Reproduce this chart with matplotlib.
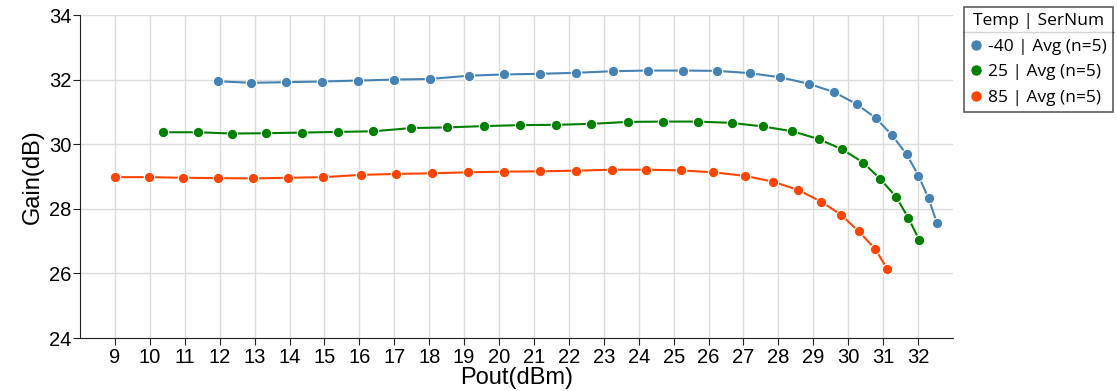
import matplotlib
matplotlib.use("Agg")
import matplotlib.pyplot as plt
from matplotlib.lines import Line2D

# Pout (dBm) / Gain (dB) per temperature, averaged over 5 serial numbers
pout_m40 = [11.95, 12.90, 13.91, 14.93, 15.96, 16.99, 18.01, 19.13, 20.14, 21.17, 22.20, 23.25, 24.27,
            25.27, 26.25, 27.18, 28.06, 28.87, 29.60, 30.24, 30.80, 31.26, 31.67, 32.01, 32.30, 32.54]
gain_m40 = [31.95, 31.90, 31.92, 31.94, 31.97, 32.00, 32.02, 32.12, 32.16, 32.18, 32.21, 32.26, 32.28,
            32.28, 32.27, 32.20, 32.07, 31.87, 31.61, 31.24, 30.80, 30.27, 29.69, 29.03, 28.32, 27.56]

pout_25 = [10.39, 11.38, 12.34, 13.33, 14.35, 15.38, 16.40, 17.49, 18.52, 19.56, 20.59, 21.62, 22.64,
           23.68, 24.70, 25.70, 26.66, 27.55, 28.40, 29.15, 29.83, 30.43, 30.91, 31.37, 31.72, 32.03]
gain_25 = [30.37, 30.37, 30.33, 30.34, 30.36, 30.38, 30.40, 30.50, 30.52, 30.56, 30.59, 30.60, 30.63,
           30.69, 30.70, 30.70, 30.66, 30.55, 30.40, 30.16, 29.84, 29.43, 28.93, 28.37, 27.72, 27.04]

pout_85 = [8.99, 9.99, 10.96, 11.95, 12.96, 13.96, 14.97, 16.04, 17.06, 18.09, 19.12, 20.14, 21.17,
           22.19, 23.23, 24.21, 25.20, 26.14, 27.04, 27.85, 28.57, 29.23, 29.80, 30.30, 30.77, 31.12]
gain_85 = [28.98, 28.98, 28.96, 28.95, 28.94, 28.96, 28.98, 29.05, 29.08, 29.10, 29.13, 29.15, 29.16,
           29.18, 29.21, 29.21, 29.19, 29.13, 29.02, 28.84, 28.58, 28.22, 27.81, 27.30, 26.76, 26.13]

labels = ["-40 | Avg (n=5)", "25 | Avg (n=5)", "85 | Avg (n=5)"]
colors = ["#4682b4", "#008000", "#ff4500"]
x_ticks = list(range(9, 33))
y_ticks = [24, 26, 28, 30, 32, 34]

plt.rcParams["font.family"] = ["Liberation Sans", "DejaVu Sans"]

W, H = 1117, 391
fig = plt.figure(figsize=(W / 100, H / 100), dpi=100)
ax = fig.add_axes([80 / W, 1 - 338 / H, (953 - 80) / W, (338 - 15) / H])

series = [(pout_m40, gain_m40), (pout_25, gain_25), (pout_85, gain_85)]
for (x, y), lab, c in zip(series, labels, colors):
    ax.plot(x, y, color=c, lw=1.5, marker="o", ms=7.5, mec="white", mew=0.8, label=lab, zorder=3)

ax.set_xlim(8, 33)
ax.set_ylim(24, 34)
ax.set_xticks(x_ticks)
ax.set_yticks(y_ticks)
ax.grid(True, color="#dcdcdc", lw=1)
ax.set_axisbelow(True)
for s in ("top", "right"):
    ax.spines[s].set_visible(False)
for s in ("left", "bottom"):
    ax.spines[s].set_color("#222222")
ax.tick_params(axis="both", labelsize=14.5, length=5, color="#222222")
ax.tick_params(axis="y", pad=1)
ax.tick_params(axis="x", pad=2)
ax.set_xlabel("Pout(dBm)", fontsize=17, labelpad=0)
ax.set_ylabel("Gain(dB)", fontsize=17, labelpad=4)

handles = [Line2D([], [], ls="none", marker="o", ms=8, color=c, mec="white", mew=0.5) for c in colors]
leg = fig.legend(handles, labels, title="Temp | SerNum", loc="upper left",
                 bbox_to_anchor=(964 / W, 1 - 7 / H), frameon=True, fancybox=False,
                 prop={"family": "Open Sans", "size": 12.5},
                 title_fontproperties={"family": "Open Sans", "size": 12.5},
                 handlelength=0.7, handletextpad=0.35, borderpad=0.35, labelspacing=0.55, borderaxespad=0)
leg.get_frame().set_edgecolor("#333333")
leg.get_frame().set_linewidth(1.2)

# separator under the legend title
fig.canvas.draw()
r = fig.canvas.get_renderer()
fb = leg.get_frame().get_window_extent(r)
tb = leg.get_title().get_window_extent(r)
yline = (tb.y0 - 3) / H
fig.add_artist(Line2D([fb.x0 / W, fb.x1 / W], [yline, yline], color="#333333", lw=1))

fig.savefig("out.png", dpi=100)
